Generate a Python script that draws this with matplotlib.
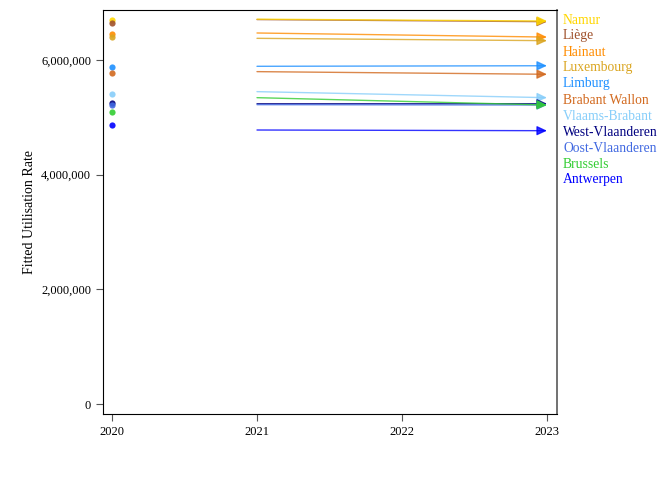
import matplotlib
matplotlib.use("Agg")
import matplotlib.pyplot as plt
from matplotlib.ticker import FuncFormatter

provinces = ["Namur", "Liège", "Hainaut", "Luxembourg", "Limburg", "Brabant Wallon",
             "Vlaams-Brabant", "West-Vlaanderen", "Oost-Vlaanderen", "Brussels", "Antwerpen"]
colors = ["#FFD700", "#A0522D", "#FF8C00", "#DAA520", "#1E90FF", "#D2691E",
          "#87CEFA", "#000080", "#4169E1", "#32CD32", "#0000FF"]
val_2020 = [6698000, 6640000, 6448000, 6396000, 5878000, 5768000,
            5402000, 5245000, 5215000, 5088000, 4866000]
val_2021 = [6712000, 6705000, 6471000, 6378000, 5890000, 5797000,
            5448000, 5238000, 5221000, 5343000, 4779000]
val_2023 = [6680000, 6668000, 6400000, 6337000, 5900000, 5751000,
            5343000, 5238000, 5215000, 5215000, 4767000]
years = [2020, 2021, 2022, 2023]
yticks = [0, 2000000, 4000000, 6000000]

plt.rcParams['font.family'] = ['Liberation Serif', 'DejaVu Serif']
fig = plt.figure(figsize=(6.72, 4.8), dpi=100)
ax = fig.add_axes([103/672, 1-414/480, (557-103)/672, (414-10)/480])

data = list(zip(provinces, colors, val_2020, val_2021, val_2023))
for i, (p, c, v0, v1, v3) in enumerate(data):
    z = 2.5 if i == 0 else 2
    ax.scatter([2020], [v0], s=20, color=c, zorder=3, linewidths=0, alpha=0.9)
    ax.annotate("", xy=(2023, v3), xytext=(2021, v1), zorder=z,
                arrowprops=dict(arrowstyle="-|>,head_length=0.6,head_width=0.28",
                                color=c, lw=1.0, shrinkA=0, shrinkB=0, alpha=0.8))

ax.set_xlim(2019.938, 2023.069)
ax.set_ylim(-174000, 6872000)
ax.set_xticks(years)
ax.set_xticklabels([str(y) for y in years], fontsize=9)
ax.set_yticks(yticks)
ax.yaxis.set_major_formatter(FuncFormatter(lambda v, p: f"{int(v):,}"))
ax.tick_params(axis='both', labelsize=9, length=5, color='#555555', direction='out')
ax.set_ylabel("Fitted Utilisation Rate", fontsize=10)
for s in ['left', 'bottom', 'top']:
    ax.spines[s].set_color('black')
ax.spines['right'].set_color('#666666')
ax.spines['right'].set_linewidth(1.3)

for i, (p, c) in enumerate(zip(provinces, colors)):
    fig.text(563/672, 1-(20+16*i)/480, p, color=c, fontsize=9.8, va='center', ha='left')

fig.savefig("out.png", dpi=100)
